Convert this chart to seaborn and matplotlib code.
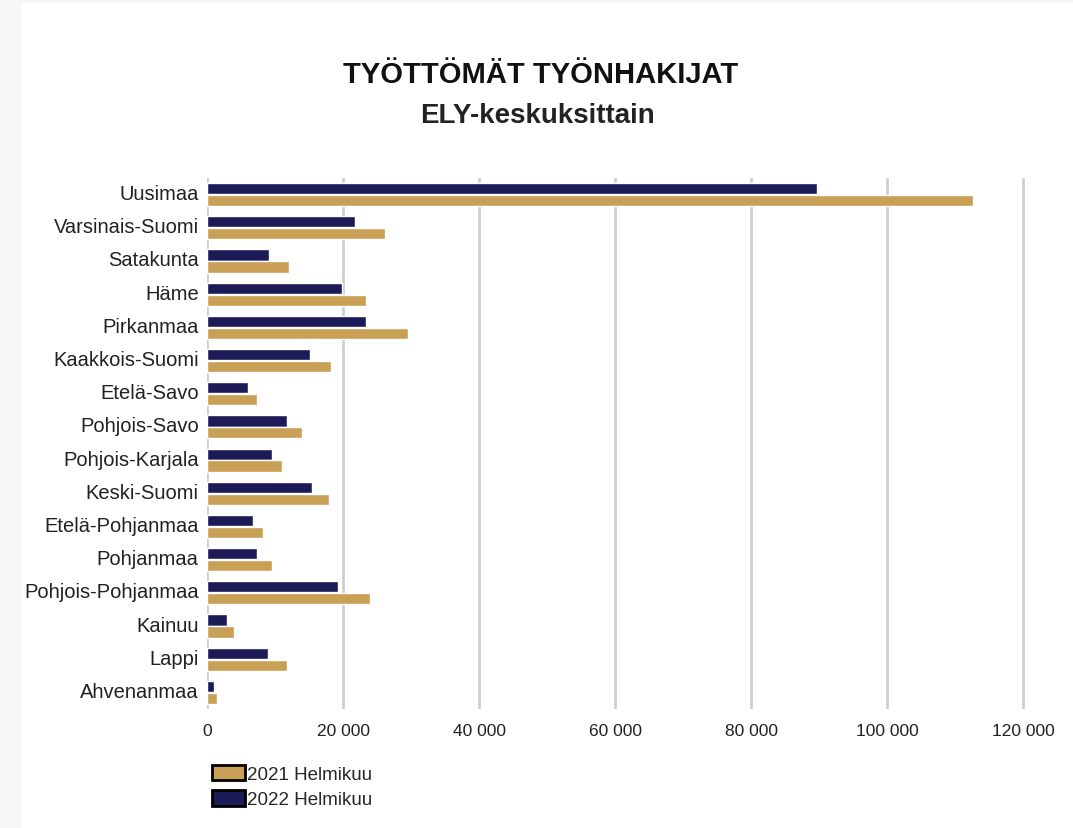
import matplotlib
matplotlib.use('Agg')
import matplotlib.pyplot as plt
import matplotlib.patches as mpatches
import matplotlib.ticker as mticker
import matplotlib.transforms as mtransforms
import pandas as pd
import seaborn as sns

sns.set_style('white')
plt.rcParams['font.family'] = ['Liberation Sans', 'DejaVu Sans']

# Data
regions = ['Uusimaa', 'Varsinais-Suomi', 'Satakunta', 'Häme', 'Pirkanmaa',
           'Kaakkois-Suomi', 'Etelä-Savo', 'Pohjois-Savo', 'Pohjois-Karjala',
           'Keski-Suomi', 'Etelä-Pohjanmaa', 'Pohjanmaa', 'Pohjois-Pohjanmaa',
           'Kainuu', 'Lappi', 'Ahvenanmaa']
v2021 = [112600, 26100, 12000, 23400, 29500, 18300, 7400, 13900, 11100,
         18000, 8300, 9500, 23900, 3900, 11700, 1400]
v2022 = [89700, 21700, 9100, 19800, 23400, 15200, 6100, 11700, 9500,
         15500, 6700, 7300, 19200, 3000, 8900, 1100]
series = ['2021 Helmikuu', '2022 Helmikuu']
colors = {'2021 Helmikuu': '#c9a056', '2022 Helmikuu': '#1d1a58'}
ticks = [0, 20000, 40000, 60000, 80000, 100000, 120000]

df = pd.concat([
    pd.DataFrame({'Alue': regions, 'Vuosi': series[1], 'Arvo': v2022}),
    pd.DataFrame({'Alue': regions, 'Vuosi': series[0], 'Arvo': v2021}),
])

fig = plt.figure(figsize=(10.73, 8.29), dpi=100)
# light grey screenshot border on the left / top
fig.patches.append(mpatches.Rectangle((0, 0), 20 / 1073, 1, transform=fig.transFigure,
                                      color='#f6f6f6', zorder=-10))
fig.patches.append(mpatches.Rectangle((0, 1 - 3 / 829), 1, 3 / 829, transform=fig.transFigure,
                                      color='#f6f6f6', zorder=-10))

ax = fig.add_axes([207 / 1073, 1 - 710 / 829, (1030 - 207) / 1073, (710 - 179) / 829])
sns.barplot(data=df, y='Alue', x='Arvo', hue='Vuosi', order=regions,
            hue_order=[series[1], series[0]], palette=colors, width=0.72,
            gap=0.06, orient='h', ax=ax, legend=False, saturation=1)

ax.set_xlim(0, 121000)
ax.set_xticks(ticks)
ax.xaxis.set_major_formatter(mticker.FuncFormatter(lambda v, p: f'{int(v):,}'.replace(',', ' ')))
ax.grid(axis='x', color='#cfcfcf', linewidth=2)
ax.set_axisbelow(True)
for s in ax.spines.values():
    s.set_visible(False)
ax.set_xlabel('')
ax.set_ylabel('')
ax.tick_params(axis='y', labelsize=14.5, colors='#222222', pad=6, length=0)
ax.tick_params(axis='x', labelsize=12.5, colors='#222222', pad=10, length=0)

# labels sit a touch above the bar pairs in the original
shift = mtransforms.ScaledTranslation(0, 3 / 100, fig.dpi_scale_trans)
for lab in ax.get_yticklabels():
    lab.set_transform(lab.get_transform() + shift)

fig.text(541 / 1073, 1 - 75 / 829, 'TYÖTTÖMÄT TYÖNHAKIJAT', ha='center', va='center',
         fontsize=21, fontweight='bold', color='#111111')
fig.text(537 / 1073, 1 - 116 / 829, 'ELY-keskuksittain', ha='center', va='center',
         fontsize=20, fontweight='bold', color='#222222')

handles = [mpatches.Patch(facecolor=colors[s], edgecolor='black', linewidth=2, label=s)
           for s in series]
fig.legend(handles=handles, loc='upper left', bbox_to_anchor=(204 / 1073, 1 - 758 / 829),
           frameon=False, fontsize=13.5, handlelength=1.8, handleheight=0.9,
           handletextpad=0.1, labelspacing=0.4, borderaxespad=0)

fig.savefig('out.png', dpi=100)
